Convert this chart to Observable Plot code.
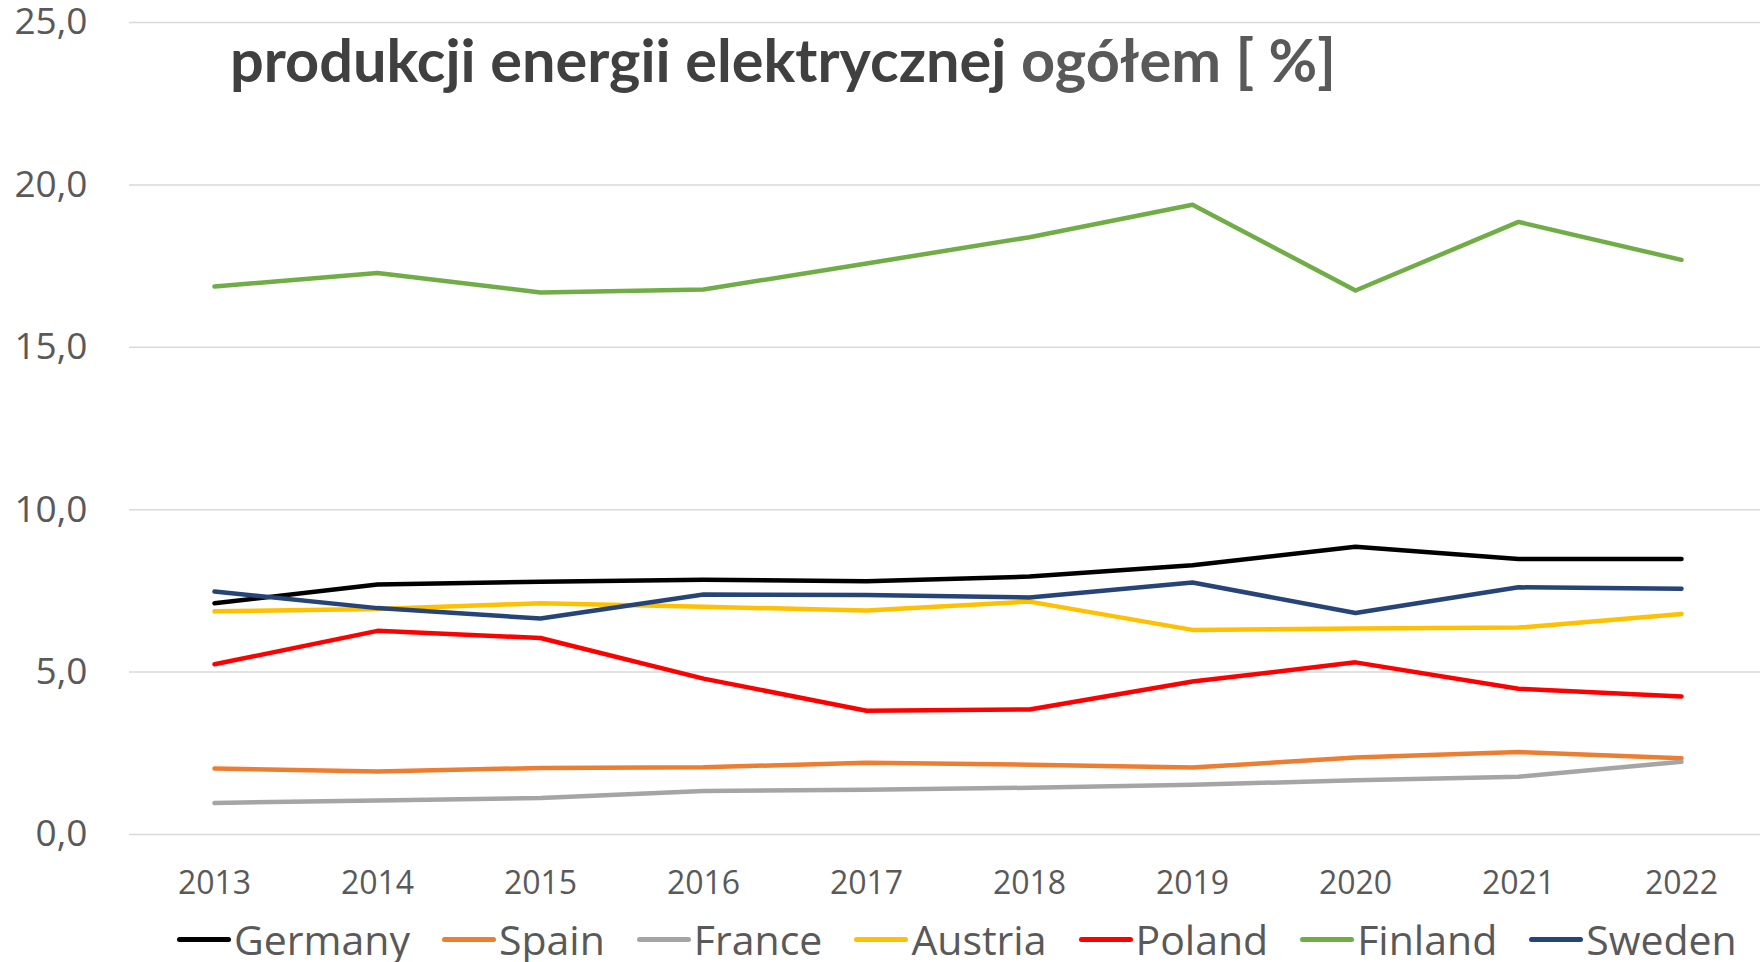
<!DOCTYPE html>
<html>
<head>
<meta charset="utf-8">
<script src="https://cdn.jsdelivr.net/npm/d3@7"></script>
<script src="https://cdn.jsdelivr.net/npm/@observablehq/plot@0.6"></script>
<style>
  html, body { margin: 0; padding: 0; background: #fff; }
  #wrap { position: relative; width: 1760px; height: 962px; overflow: hidden; background: #fff; }
  #chart { position: absolute; left: 0; top: 0; }
  #title { position: absolute; left: 0; top: 0; pointer-events: none; }
  #legend { position: absolute; left: 177px; top: 913px; display: flex; align-items: center; gap: 32px;
            font-family: "Open Sans", sans-serif; font-size: 41px; line-height: 52px; color: #595959; white-space: nowrap; }
  .item { display: flex; align-items: center; gap: 3px; }
  .sw { width: 54px; height: 5px; border-radius: 3px; }
</style>
</head>
<body>
<div id="wrap">
  <div id="chart"></div>
  <svg id="title" width="1760" height="120">
    <text x="230" y="82" font-family="Lato, 'Open Sans', sans-serif" font-weight="700" font-size="60"
          textLength="1106" lengthAdjust="spacingAndGlyphs"><tspan fill="#404040">produkcji energii elektrycznej </tspan><tspan fill="#595959">ogółem [ %]</tspan></text>
  </svg>
  <div id="legend"></div>
</div>
<script>
const years = [2013, 2014, 2015, 2016, 2017, 2018, 2019, 2020, 2021, 2022];
const countries = ["Germany", "Spain", "France", "Austria", "Poland", "Finland", "Sweden"];
const colors = ["#000000", "#ED7D31", "#A5A5A5", "#FFC000", "#FF0000", "#70AD47", "#264478"];

const germany = [7.12, 7.70, 7.78, 7.84, 7.80, 7.94, 8.29, 8.86, 8.48, 8.48];
const spain   = [2.03, 1.94, 2.05, 2.07, 2.21, 2.15, 2.06, 2.37, 2.54, 2.35];
const france  = [0.97, 1.05, 1.12, 1.34, 1.38, 1.44, 1.53, 1.67, 1.78, 2.24];
const austria = [6.87, 6.94, 7.12, 7.01, 6.90, 7.17, 6.30, 6.34, 6.37, 6.79];
const poland  = [5.24, 6.27, 6.05, 4.80, 3.81, 3.85, 4.71, 5.30, 4.49, 4.25];
const finland = [16.87, 17.29, 16.69, 16.78, 17.58, 18.39, 19.39, 16.75, 18.86, 17.69];
const sweden  = [7.48, 6.97, 6.65, 7.39, 7.37, 7.30, 7.76, 6.82, 7.61, 7.57];

const yTicks = [0, 5, 10, 15, 20, 25];

const series = [germany, spain, france, austria, poland, finland, sweden];
const data = [];
countries.forEach((c, i) => {
  years.forEach((y, j) => data.push({country: c, year: y, value: series[i][j]}));
});

const chart = Plot.plot({
  width: 1760,
  height: 962,
  marginLeft: 129,
  marginRight: 0,
  marginTop: 22,
  marginBottom: 128,
  style: {fontFamily: "'Open Sans', sans-serif", background: "transparent"},
  x: {type: "point", domain: years, range: [210, 1685], padding: 0, label: null},
  y: {domain: [0, 25], label: null},
  color: {domain: countries, range: colors},
  marks: [
    Plot.gridY(yTicks, {stroke: "#D9D9D9", strokeOpacity: 1, strokeWidth: 1.5}),
    Plot.axisY(yTicks, {tickSize: 0, tickPadding: 42, fontSize: 37, fill: "#595959",
      tickFormat: d => d.toFixed(1).replace(".", ","), label: null}),
    Plot.axisX(years, {tickSize: 0, tickPadding: 37, fontSize: 32, fill: "#595959",
      tickFormat: d => String(d), label: null}),
    Plot.line(data, {x: "year", y: "value", z: "country", stroke: "country",
      strokeWidth: 4.5, strokeLinecap: "round", strokeLinejoin: "round"})
  ]
});
document.getElementById("chart").appendChild(chart);

const legend = document.getElementById("legend");
countries.forEach((c, i) => {
  const it = document.createElement("div");
  it.className = "item";
  const sw = document.createElement("div");
  sw.className = "sw";
  sw.style.background = colors[i];
  const t = document.createElement("span");
  t.textContent = c;
  it.appendChild(sw);
  it.appendChild(t);
  legend.appendChild(it);
});
</script>
</body>
</html>
